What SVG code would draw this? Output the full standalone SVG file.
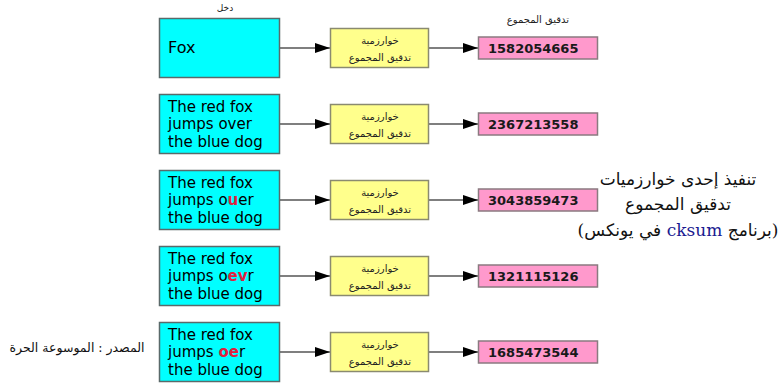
<svg xmlns="http://www.w3.org/2000/svg" width="782" height="384" viewBox="0 0 782 384">
  <style>
    .inbox { fill: #00ffff; stroke: #5a6a6a; stroke-width: 1.5; }
    .algo { fill: #ffff8c; stroke: #8a8a70; stroke-width: 1.5; }
    .sum { fill: #ff99cc; stroke: #8a7a80; stroke-width: 1.5; }
    .en { font-family: "DejaVu Sans", "Liberation Sans", sans-serif; font-size: 15px; fill: #000; }
    .hl { fill: #e0203c; font-weight: bold; }
    .ar { font-family: "DejaVu Sans", sans-serif; font-size: 10px; fill: #222; text-anchor: middle; }
    .num { font-family: "DejaVu Sans", "Liberation Sans", sans-serif; font-size: 13px; font-weight: bold; fill: #1a1a1a; }
    .note { font-family: "DejaVu Serif", "DejaVu Sans", serif; font-size: 17px; fill: #111; text-anchor: middle; }
    .conn { stroke: #555; stroke-width: 1.5; fill: none; marker-end: url(#arrow); }
  </style>
  <defs>
    <marker id="arrow" markerUnits="userSpaceOnUse" markerWidth="15" markerHeight="10" refX="15" refY="5" orient="auto">
      <path d="M0,0 L15,5 L0,10 z" fill="#000"/>
    </marker>
  </defs>

  <!-- column headings -->
  <text class="ar" x="225" y="11" style="font-size:9px">دخل</text>
  <text class="ar" x="538" y="23">تدقيق المجموع</text>

  <!-- connectors -->
  <g id="connectors">
    <line class="conn" x1="279" y1="48" x2="330" y2="48"/>
    <line class="conn" x1="429" y1="48" x2="478" y2="48"/>
    <line class="conn" x1="279" y1="124" x2="330" y2="124"/>
    <line class="conn" x1="429" y1="124" x2="478" y2="124"/>
    <line class="conn" x1="279" y1="200" x2="330" y2="200"/>
    <line class="conn" x1="429" y1="200" x2="478" y2="200"/>
    <line class="conn" x1="279" y1="276" x2="330" y2="276"/>
    <line class="conn" x1="429" y1="276" x2="478" y2="276"/>
    <line class="conn" x1="279" y1="352" x2="330" y2="352"/>
    <line class="conn" x1="429" y1="352" x2="478" y2="352"/>
  </g>

  <!-- row 1 -->
  <g id="input1">
    <rect class="inbox" x="159.5" y="18.5" width="120" height="59"/>
    <text class="en" x="168" y="53" style="font-size:16px">Fox</text>
  </g>
  <g id="algo1">
    <rect class="algo" x="330.5" y="28.5" width="98" height="39"/>
    <text class="ar" x="380" y="44">خوارزمية</text>
    <text class="ar" x="380" y="61">تدقيق المجموع</text>
  </g>
  <g id="sum1">
    <rect class="sum" x="478.5" y="37" width="119" height="22"/>
    <text class="num" x="488" y="53">1582054665</text>
  </g>

  <!-- row 2 -->
  <g id="input2">
    <rect class="inbox" x="159.5" y="94.5" width="120" height="59"/>
    <text class="en" x="168" y="112">The red fox</text>
    <text class="en" x="168" y="129">jumps over</text>
    <text class="en" x="168" y="146.5">the blue dog</text>
  </g>
  <g id="algo2">
    <rect class="algo" x="330.5" y="104.5" width="98" height="39"/>
    <text class="ar" x="380" y="120">خوارزمية</text>
    <text class="ar" x="380" y="137">تدقيق المجموع</text>
  </g>
  <g id="sum2">
    <rect class="sum" x="478.5" y="113" width="119" height="22"/>
    <text class="num" x="488" y="129">2367213558</text>
  </g>

  <!-- row 3 -->
  <g id="input3">
    <rect class="inbox" x="159.5" y="170.5" width="120" height="59"/>
    <text class="en" x="168" y="188">The red fox</text>
    <text class="en" x="168" y="205">jumps o<tspan class="hl">u</tspan>er</text>
    <text class="en" x="168" y="222.5">the blue dog</text>
  </g>
  <g id="algo3">
    <rect class="algo" x="330.5" y="180.5" width="98" height="39"/>
    <text class="ar" x="380" y="196">خوارزمية</text>
    <text class="ar" x="380" y="213">تدقيق المجموع</text>
  </g>
  <g id="sum3">
    <rect class="sum" x="478.5" y="189" width="119" height="22"/>
    <text class="num" x="488" y="205">3043859473</text>
  </g>

  <!-- row 4 -->
  <g id="input4">
    <rect class="inbox" x="159.5" y="246.5" width="120" height="59"/>
    <text class="en" x="168" y="264">The red fox</text>
    <text class="en" x="168" y="281">jumps o<tspan class="hl">ev</tspan>r</text>
    <text class="en" x="168" y="298.5">the blue dog</text>
  </g>
  <g id="algo4">
    <rect class="algo" x="330.5" y="256.5" width="98" height="39"/>
    <text class="ar" x="380" y="272">خوارزمية</text>
    <text class="ar" x="380" y="289">تدقيق المجموع</text>
  </g>
  <g id="sum4">
    <rect class="sum" x="478.5" y="265" width="119" height="22"/>
    <text class="num" x="488" y="281">1321115126</text>
  </g>

  <!-- row 5 -->
  <g id="input5">
    <rect class="inbox" x="159.5" y="322.5" width="120" height="59"/>
    <text class="en" x="168" y="340">The red fox</text>
    <text class="en" x="168" y="357">jumps <tspan class="hl">oe</tspan>r</text>
    <text class="en" x="168" y="374.5">the blue dog</text>
  </g>
  <g id="algo5">
    <rect class="algo" x="330.5" y="332.5" width="98" height="39"/>
    <text class="ar" x="380" y="348">خوارزمية</text>
    <text class="ar" x="380" y="365">تدقيق المجموع</text>
  </g>
  <g id="sum5">
    <rect class="sum" x="478.5" y="341" width="119" height="22"/>
    <text class="num" x="488" y="357">1685473544</text>
  </g>

  <!-- caption -->
  <g id="caption">
    <text class="note" x="678" y="185">تنفيذ إحدى خوارزميات</text>
    <text class="note" x="678" y="210">تدقيق المجموع</text>
    <text class="note" x="678" y="236" direction="rtl">(برنامج <tspan fill="#1a1a90">cksum</tspan> في يونكس)</text>
  </g>

  <!-- source -->
  <text class="note" x="77" y="352" style="font-size:12.5px">المصدر : الموسوعة الحرة</text>
</svg>
